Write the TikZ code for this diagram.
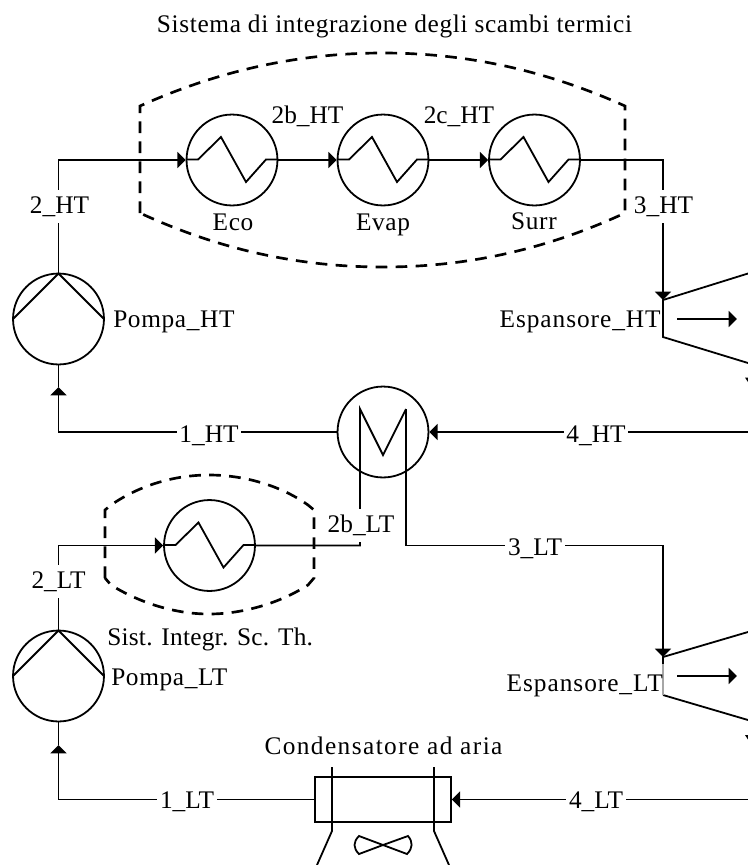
\documentclass[tikz,border=0pt]{standalone}
\usepackage{fontspec}
\setmainfont{Liberation Serif}[LetterSpace=2.5]
\newfontfamily\tightfont{Liberation Serif}
\newfontfamily\midfont{Liberation Serif}[LetterSpace=1]
\newfontfamily\loosefont{Liberation Serif}[LetterSpace=3.8]
\newfontfamily\widefont{Liberation Serif}[LetterSpace=5.6]
\usetikzlibrary{arrows.meta}
\tikzset{
  pipe/.style={line width=1.35pt,line join=miter},
  flow/.style={pipe,-{Triangle[length=6.2pt,width=12pt]}},
  unit/.style={circle,draw,line width=1.35pt,minimum size=68.2pt,inner sep=0pt},
  envelope/.style={line width=2pt,dash pattern=on 8.75pt off 6.25pt},
  txt/.style={font=\fontsize{19pt}{22pt}\selectfont,inner sep=0pt,yshift=-1pt,text height=14pt,text depth=4pt},
  lbl/.style={font=\fontsize{19pt}{22pt}\selectfont\tightfont,fill=white,inner sep=0pt,inner xsep=2pt,minimum height=24.5pt,yshift=-1pt,text height=14pt,text depth=4pt},
}
\newcommand{\zigzag}[1]{\draw[pipe,shift={(#1.center)}] (-45.5,-.5) -- (-34,-.5) -- (-11,-23) -- (14,22) -- (34,-.5) -- (45.5,-.5);}
\newcommand{\impeller}[1]{\draw[pipe,shift={(#1.center)}] (-45.5,0) -- (0,-45.5) -- (45.5,0);}
\begin{document}
\begin{tikzpicture}[x=0.75pt,y=-0.75pt]
\useasboundingbox (0,0) rectangle (748,865);
\clip (0,0) rectangle (748,865);
% units
\node[unit] (eco) at (232,160) {};
\node[unit] (evap) at (383,160) {};
\node[unit] (surr) at (534.5,160) {};
\node[unit] (pumpHT) at (58.5,319) {};
\node[unit] (pumpLT) at (58.5,676) {};
\node[unit] (rec) at (383,432) {};
\node[unit] (sis) at (209.5,545.5) {};
\node[draw,line width=1.35pt,minimum width=102pt,minimum height=33.75pt,inner sep=0pt] (cond) at (383,799.5) {};
\zigzag{eco}\zigzag{evap}\zigzag{surr}\zigzag{sis}
\impeller{pumpHT}\impeller{pumpLT}
% recuperator internals
\coordinate (mA) at (360,409);
\coordinate (mB) at (383,455);
\coordinate (mC) at (406,409);
\coordinate (mD) at (406,545.5);
\coordinate (htIn) at (663,300);
\coordinate (htLow) at (663,337);
\coordinate (ltIn) at (663,657);
\coordinate (ltGap) at (663,664);
\coordinate (ltLow) at (663,695);
\coordinate (e4HT) at (748,432);
\coordinate (e4LT) at (748,799.5);
\coordinate (tipHT) at (58.5,387);
\coordinate (tipLT) at (58.5,745);
\coordinate (j2bLT) at (360,545.5);
% expanders
\draw[pipe] (748,273.5) -- (htIn) -- (htLow) -- (748,363);
\draw[pipe] (748,632) -- (ltIn) -- (ltGap);
\draw[pipe] (ltLow) -- (748,720);
\draw[line width=.8pt,black!35] (ltGap) -- (ltLow);
\coordinate (shaftHTa) at (677,319);
\coordinate (shaftHTb) at (737,319);
\coordinate (shaftLTa) at (677,676);
\coordinate (shaftLTb) at (737,676);
\draw[flow] (shaftHTa) -- (shaftHTb);
\draw[flow] (shaftLTa) -- (shaftLTb);
\fill (745,377.5) -- (748,377.5) -- (748,382) -- cycle;
\fill (745,735) -- (748,735) -- (748,739.5) -- cycle;
% connectors
\draw[flow] (pumpHT.north) |- (eco.west);
\draw[flow] (eco.east) -- (evap.west);
\draw[flow] (evap.east) -- (surr.west);
\draw[flow] (surr.east) -| (htIn);
\draw[flow] (rec.west) -| (tipHT);
\draw[pipe] (tipHT) -- (pumpHT.south);
\draw[flow] (e4HT) -- (rec.east);
\draw[flow] (pumpLT.north) |- (sis.west);
\draw[pipe] (sis.east) -- (j2bLT) -- (mA) -- (mB) -- (mC);
\draw[flow] (mC) -- (mD) -| (ltIn);
\draw[flow] (cond.west) -| (tipLT);
\draw[pipe] (tipLT) -- (pumpLT.south);
\draw[flow] (e4LT) -- (cond.east);
% condenser
\draw[pipe] (332,767) -- (332,831) -- (317,865);
\draw[pipe] (434,767) -- (434,831) -- (449,865);
\draw[pipe] (383,845) -- (359,836) .. controls (353,842) and (353,848) .. (359,854) -- (383,845)
  -- (408,836) .. controls (413,842) and (413,848) .. (407,854) -- cycle;
% envelopes
\draw[envelope] (140,213) -- (140,106) .. controls (220,70) and (300,53) .. (383,53)
  .. controls (466,53) and (545,70) .. (625,106) -- (625,213)
  .. controls (545,250) and (466,267) .. (383,267) .. controls (300,267) and (220,250) .. cycle;
\draw[envelope] (105,578) -- (105,510) -- (111,505) .. controls (140,485) and (175,475) .. (209,475)
  .. controls (243,475) and (280,485) .. (308,505) -- (314,510) -- (314,578) -- (308,585)
  .. controls (280,603) and (243,614) .. (209,614) .. controls (175,614) and (140,603) .. (111,585) -- cycle;
% labels
\node[txt] (title) at (394.5,24.5) {Sistema di integrazione degli scambi termici};
\node[txt] (l2b) at (307.5,115) {\tightfont 2b\_HT};
\node[txt] (l2c) at (459,115) {\tightfont 2c\_HT};
\node[txt] (nEco) at (233,222) {Eco};
\node[txt] (nEvap) at (383,222) {Evap};
\node[txt] (nSurr) at (534,221) {Surr};
\node[lbl] (l2HT) at (59.5,205) {2\_HT};
\node[lbl] (l3HT) at (663.5,205) {3\_HT};
\node[txt,anchor=west] (nPHT) at (113,319) {Pompa\_HT};
\node[txt,anchor=east] (nEHT) at (661,319) {\loosefont Espansore\_HT};
\node[lbl] (l1HT) at (209,434) {1\_HT};
\node[lbl] (l4HT) at (596,434) {4\_HT};
\node[lbl] (l2bLT) at (361,524) {2b\_LT};
\node[lbl] (l3LT) at (535,547) {3\_LT};
\node[lbl] (l2LT) at (58.5,580) {2\_LT};
\node[txt,anchor=west] (nSI) at (107,637) {\midfont Sist. Integr. Sc. Th.};
\node[txt,anchor=west] (nPLT) at (111,677) {Pompa\_LT};
\node[txt,anchor=east] (nELT) at (663,683) {\loosefont Espansore\_LT};
\node[txt] (nC) at (383.5,746) {\widefont Condensatore ad aria};
\node[lbl] (l1LT) at (187,800) {1\_LT};
\node[lbl] (l4LT) at (596,800) {4\_LT};
\end{tikzpicture}
\end{document}
